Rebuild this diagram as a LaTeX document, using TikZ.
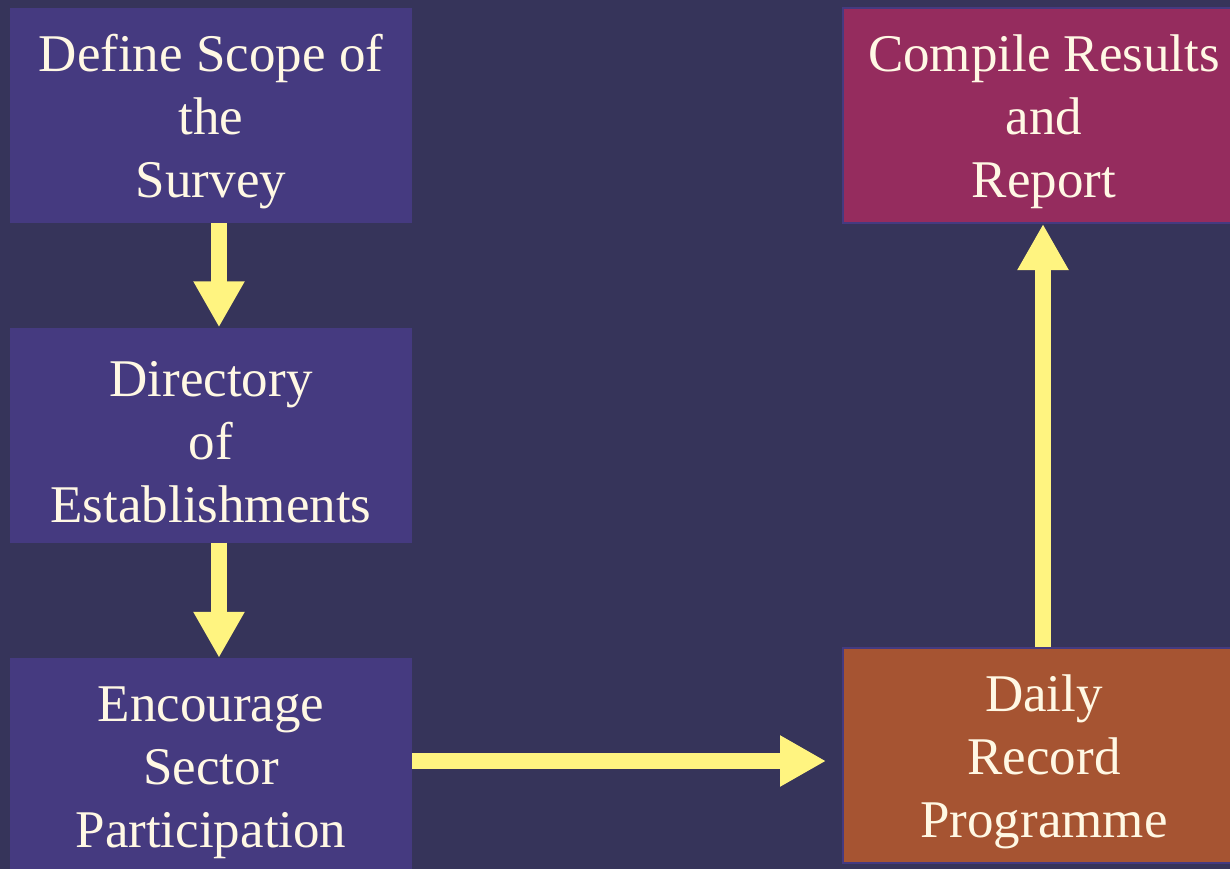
\documentclass[tikz,border=0pt]{standalone}
\usepackage{fontspec}
\setmainfont{Liberation Serif}
\usetikzlibrary{arrows.meta}
\definecolor{bg}{HTML}{36345A}
\definecolor{boxpurple}{HTML}{453A80}
\definecolor{boxrose}{HTML}{952C5E}
\definecolor{boxrust}{HTML}{A65432}
\definecolor{arrowyellow}{HTML}{FFF480}
\definecolor{txt}{HTML}{FFF8E4}
\newcommand{\topstrut}{\rule{0pt}{50pt}}
\tikzset{
  box/.style={rectangle, minimum width=402pt, minimum height=215pt, inner sep=0pt,
    align=center, text=txt, font=\fontsize{53}{63}\selectfont},
  stepbox/.style={box, fill=boxpurple},
  resultbox/.style={box, fill=boxrose, draw=boxpurple, line width=2pt},
  recordbox/.style={box, fill=boxrust, draw=boxpurple, line width=2pt},
  arr/.style={draw=arrowyellow, line width=16pt, -{Triangle[width=48pt,length=46pt]}}
}
\begin{document}
\begin{tikzpicture}[x=1pt,y=-1pt]
\useasboundingbox (0,0) rectangle (1230,869);
\clip (0,0) rectangle (1230,869);
\fill[bg] (0,0) rectangle (1230,869);
\node[stepbox] (b1) at (211,115.5) {\topstrut Define Scope of\\the\\Survey};
\node[stepbox] (b2) at (211,435) {\topstrut Directory\\of\\Establishments};
\node[stepbox] (b3) at (211,765.5) {\topstrut Encourage\\Sector\\Participation};
\node[resultbox] (b4) at (1044,115.5) {\topstrut Compile Results\\and\\Report};
\node[recordbox] (b5) at (1044,755) {\topstrut Daily\\Record\\Programme};
\draw[arr] ([xshift=8pt]b1.south) -- ([xshift=8pt]b2.north);
\draw[arr] ([xshift=8pt]b2.south) -- ([xshift=8pt]b3.north);
\draw[arr, shorten >=16pt] ([yshift=4.5pt]b3.east) -- ([yshift=4.5pt]b3.east -| b5.west);
\draw[arr] ([xshift=-1pt]b5.north) -- ([xshift=-1pt]b4.south);
\end{tikzpicture}
\end{document}
